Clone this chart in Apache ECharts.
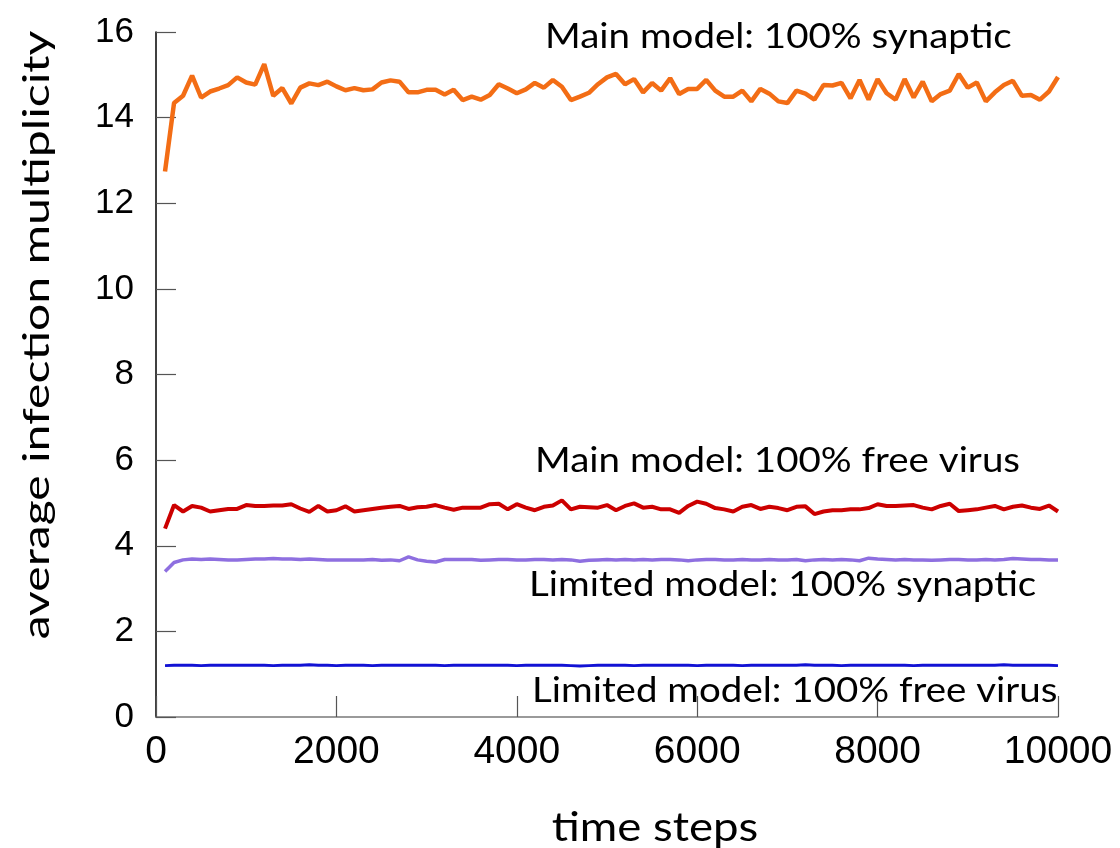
<!DOCTYPE html>
<html>
<head>
<meta charset="utf-8">
<script src="https://cdn.jsdelivr.net/npm/echarts@6/dist/echarts.min.js"></script>
<style>html,body{margin:0;padding:0;background:#fff;}#c{width:1120px;height:848px;}</style>
</head>
<body>
<div id="c"></div>
<script>
const timeSteps = [100,200,300,400,500,600,700,800,900,1000,
1100,1200,1300,1400,1500,1600,1700,1800,1900,2000,
2100,2200,2300,2400,2500,2600,2700,2800,2900,3000,
3100,3200,3300,3400,3500,3600,3700,3800,3900,4000,
4100,4200,4300,4400,4500,4600,4700,4800,4900,5000,
5100,5200,5300,5400,5500,5600,5700,5800,5900,6000,
6100,6200,6300,6400,6500,6600,6700,6800,6900,7000,
7100,7200,7300,7400,7500,7600,7700,7800,7900,8000,
8100,8200,8300,8400,8500,8600,8700,8800,8900,9000,
9100,9200,9300,9400,9500,9600,9700,9800,9900,10000];

const mainSynaptic = [12.74,14.34,14.51,14.98,14.47,14.61,14.68,14.76,14.94,14.82,
14.77,15.25,14.51,14.69,14.33,14.70,14.80,14.76,14.84,14.73,
14.64,14.69,14.64,14.66,14.82,14.87,14.84,14.59,14.59,14.65,
14.65,14.54,14.65,14.41,14.49,14.42,14.53,14.78,14.68,14.57,
14.66,14.81,14.70,14.88,14.72,14.41,14.49,14.58,14.78,14.94,
15.02,14.78,14.90,14.59,14.81,14.63,14.92,14.55,14.67,14.67,
14.88,14.63,14.49,14.49,14.63,14.38,14.67,14.56,14.38,14.34,
14.63,14.56,14.42,14.76,14.75,14.81,14.45,14.88,14.42,14.90,
14.57,14.42,14.90,14.47,14.84,14.38,14.55,14.63,15.02,14.70,
14.82,14.38,14.59,14.76,14.86,14.51,14.53,14.42,14.61,14.95];

const mainFree = [4.40,4.95,4.80,4.93,4.89,4.80,4.83,4.86,4.86,4.95,
4.93,4.93,4.94,4.94,4.97,4.87,4.79,4.93,4.80,4.83,
4.92,4.80,4.83,4.86,4.89,4.91,4.93,4.86,4.90,4.91,
4.95,4.89,4.84,4.89,4.89,4.89,4.97,4.98,4.85,4.97,
4.89,4.83,4.91,4.94,5.06,4.85,4.91,4.90,4.89,4.95,
4.83,4.93,4.99,4.89,4.91,4.85,4.85,4.77,4.93,5.03,
4.98,4.88,4.85,4.80,4.91,4.95,4.86,4.91,4.88,4.83,
4.91,4.92,4.74,4.80,4.83,4.83,4.85,4.85,4.88,4.97,
4.93,4.93,4.94,4.95,4.89,4.85,4.93,4.98,4.81,4.83,
4.85,4.89,4.93,4.85,4.91,4.94,4.89,4.86,4.94,4.80];

const limitedSynaptic = [3.40,3.61,3.67,3.69,3.68,3.69,3.68,3.67,3.67,3.68,
3.69,3.69,3.70,3.69,3.69,3.68,3.69,3.68,3.67,3.67,
3.67,3.67,3.67,3.68,3.66,3.67,3.65,3.74,3.67,3.64,
3.62,3.68,3.68,3.68,3.68,3.66,3.67,3.68,3.68,3.67,
3.67,3.68,3.68,3.67,3.68,3.67,3.64,3.66,3.67,3.68,
3.67,3.68,3.67,3.68,3.67,3.68,3.68,3.67,3.65,3.67,
3.68,3.68,3.67,3.67,3.68,3.67,3.67,3.68,3.67,3.67,
3.68,3.65,3.67,3.68,3.67,3.68,3.67,3.65,3.71,3.69,
3.68,3.67,3.68,3.67,3.67,3.66,3.67,3.68,3.68,3.67,
3.67,3.68,3.67,3.68,3.70,3.69,3.68,3.68,3.67,3.67];

const limitedFree = [1.20,1.21,1.21,1.21,1.20,1.21,1.21,1.21,1.21,1.21,
1.21,1.21,1.20,1.21,1.21,1.21,1.22,1.21,1.21,1.20,
1.21,1.21,1.21,1.20,1.21,1.21,1.21,1.21,1.21,1.21,
1.21,1.20,1.21,1.21,1.21,1.21,1.21,1.21,1.21,1.20,
1.21,1.21,1.21,1.21,1.21,1.20,1.19,1.20,1.21,1.21,
1.21,1.21,1.20,1.21,1.21,1.21,1.21,1.21,1.21,1.20,
1.21,1.21,1.21,1.21,1.20,1.21,1.21,1.21,1.21,1.21,
1.21,1.22,1.21,1.21,1.21,1.20,1.21,1.21,1.21,1.21,
1.21,1.21,1.21,1.20,1.21,1.21,1.21,1.21,1.21,1.21,
1.21,1.21,1.21,1.22,1.21,1.21,1.21,1.21,1.21,1.20];

const seriesNames = ['Main model: 100% synaptic','Main model: 100% free virus','Limited model: 100% synaptic','Limited model: 100% free virus'];
const seriesColors = ['#F36D15','#CC0000','#8E6FE0','#1212D4'];
const seriesValues = [mainSynaptic, mainFree, limitedSynaptic, limitedFree];
const lineWidths = [4.5, 4, 3.5, 3];

const xTitle = 'time steps';
const yTitle = 'average infection multiplicity';

const chart = echarts.init(document.getElementById('c'), null, {renderer:'canvas'});
const annFont = 'Lato';
const annSize = 35;
const annScale = 1.1;
const annotations = [
  {text: seriesNames[0], x: 545, y: 37},
  {text: seriesNames[1], x: 535, y: 461},
  {text: seriesNames[2], x: 529, y: 585},
  {text: seriesNames[3], x: 532, y: 691}
];

chart.setOption({
  animation: false,
  backgroundColor: '#ffffff',
  grid: {left: 156, right: 62, top: 32, bottom: 131, containLabel: false},
  xAxis: {
    type: 'value', min: 0, max: 10000, interval: 2000,
    axisLine: {show: true, lineStyle: {color: '#7a7a7a', width: 1.5}},
    axisTick: {show: true, inside: true, length: 21, lineStyle: {color: '#555', width: 1.2}},
    axisLabel: {color: '#000', fontFamily: 'Liberation Sans', fontSize: 39, margin: 16,
      formatter: v => String(v)},
    splitLine: {show: false}
  },
  yAxis: {
    type: 'value', min: 0, max: 16, interval: 2,
    axisLine: {show: true, lineStyle: {color: '#000', width: 1.5}},
    axisTick: {show: true, inside: true, length: 20, lineStyle: {color: '#555', width: 1.2}},
    axisLabel: {color: '#000', fontFamily: 'Liberation Sans', fontSize: 35, margin: 22},
    splitLine: {show: false}
  },
  series: seriesValues.map((vals, i) => ({
    name: seriesNames[i],
    type: 'line',
    data: timeSteps.map((t, j) => [t, vals[j]]),
    showSymbol: false,
    symbol: 'none',
    lineStyle: {color: seriesColors[i], width: lineWidths[i]},
    itemStyle: {color: seriesColors[i]},
    z: 4 - i
  })),
  graphic: annotations.map(a => ({
    type: 'text', x: a.x, y: a.y - 0.5 * annSize, scaleX: annScale, z: 100,
    style: {text: a.text, fill: '#000', fontFamily: annFont, fontSize: annSize, textAlign: 'left', textVerticalAlign: 'top'}
  })).concat([
    {type: 'text', x: 655, y: 828, scaleX: 1.14, z: 100,
     style: {text: xTitle, fill: '#000', fontFamily: annFont, fontSize: 40, textAlign: 'center', textVerticalAlign: 'middle'}},
    {type: 'text', x: 37, y: 335, rotation: Math.PI/2, scaleX: 1.3, z: 100,
     style: {text: yTitle, fill: '#000', fontFamily: annFont, fontSize: 37, textAlign: 'center', textVerticalAlign: 'middle'}}
  ])
});
</script>
</body>
</html>
